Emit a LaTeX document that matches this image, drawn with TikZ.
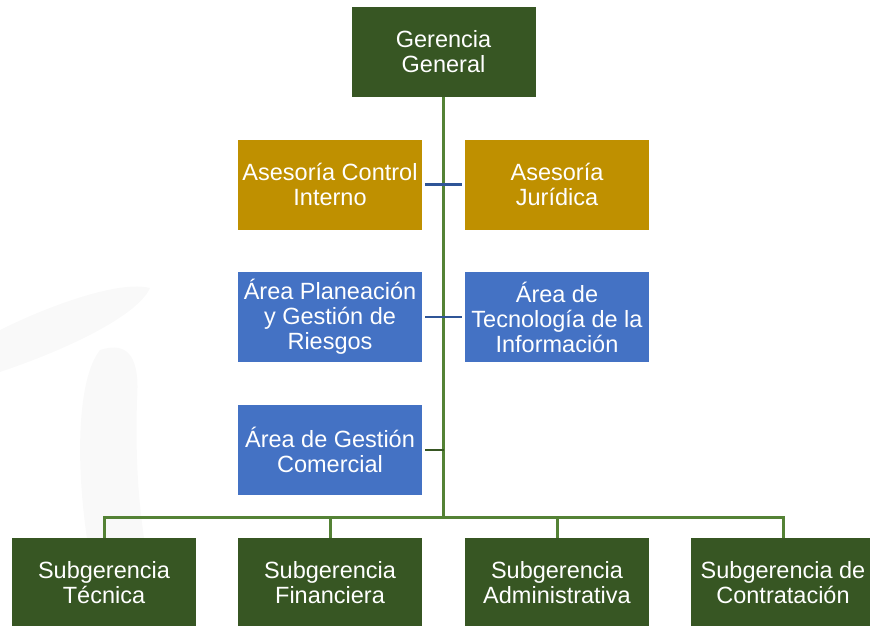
\documentclass[tikz,border=0pt]{standalone}
\usepackage{fontspec}
\setmainfont{Liberation Sans}
\usepackage{tikz}
\usetikzlibrary{positioning}
\definecolor{verdeosc}{HTML}{375623}
\definecolor{verdelin}{HTML}{548235}
\definecolor{oro}{HTML}{BF9000}
\definecolor{azul}{HTML}{4472C4}
\definecolor{azullin}{HTML}{2F5597}
\tikzset{
  caja/.style={minimum width=184pt,minimum height=90pt,inner sep=1pt,align=center,
    text=white,font=\fontsize{23.5pt}{25pt}\selectfont},
  gerencia/.style={caja,fill=verdeosc},
  asesoria/.style={caja,fill=oro},
  area/.style={caja,fill=azul},
  tronco/.style={verdelin,line width=3pt},
  rama/.style={azullin,line width=2.5pt,shorten <=3pt,shorten >=3pt},
  marca/.style={fill=black!2.5}
}
\begin{document}
\begin{tikzpicture}[x=1pt,y=-1pt]
  \useasboundingbox (0,0) rectangle (870,625);
  \fill[marca] (0,330) .. controls (50,305) and (120,280) .. (150,288) .. controls (140,312) and (80,345) .. (0,372) -- cycle;
  \fill[marca] (100,350) .. controls (130,340) and (140,360) .. (137,400) .. controls (135,470) and (140,510) .. (145,545) -- (88,545) .. controls (76,470) and (76,380) .. (100,350) -- cycle;
  \node[gerencia] (gg) at (443.5,52) {Gerencia\\General};
  \node[asesoria] (ci) at (330,184.5) {Asesoría Control\\Interno};
  \node[asesoria] (aj) at (557,184.5) {Asesoría\\Jurídica};
  \node[area] (pr) at (330,317) {Área Planeación\\y Gestión de\\Riesgos};
  \node[area] (ti) at (557,317) {Área de\\Tecnología de la\\Información};
  \node[area] (gc) at (330,450) {Área de Gestión\\Comercial};
  \node[gerencia] (st) at (104,583) {Subgerencia\\Técnica};
  \node[gerencia] (sf) at (330,583) {Subgerencia\\Financiera};
  \node[gerencia] (sa) at (557,583) {Subgerencia\\Administrativa};
  \node[gerencia] (sc) at (783,583) {Subgerencia de\\Contratación};
  \coordinate (bus) at (443.5,517);
  \draw[tronco] (gg.south) -- (bus);
  \draw[rama] (ci.east) -- (aj.west);
  \draw[rama] (pr.east) -- (ti.west);
  \draw[verdeosc,line width=2.5pt,shorten <=3pt] (gc.east) -- (gc.east -| bus);
  \draw[tronco] (st.north) -- (st.north |- bus) -- (sc.north |- bus) -- (sc.north);
  \foreach \n in {sf,sa}
    \draw[tronco] (\n.north) -- (\n.north |- bus);
\end{tikzpicture}
\end{document}
